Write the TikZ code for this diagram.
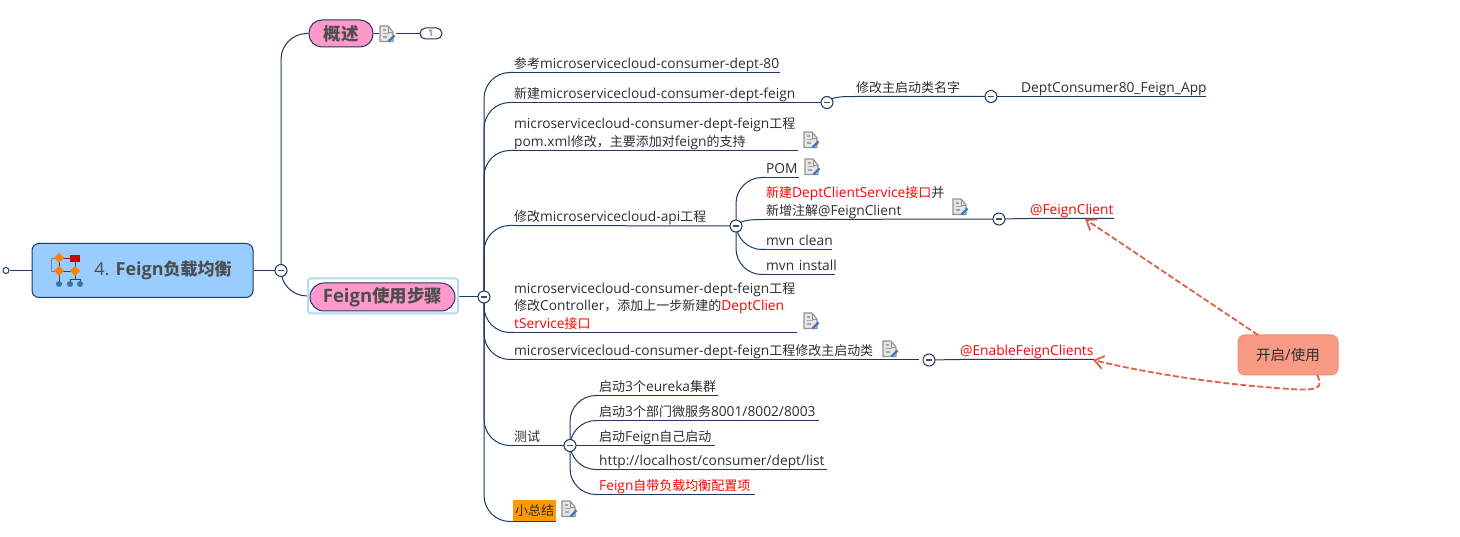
\documentclass[tikz,border=0pt]{standalone}
\usepackage{fontspec}
\setmainfont{Open Sans}
\newfontfamily\cjk[Scale=0.945]{Noto Sans CJK SC}
\usetikzlibrary{arrows.meta,backgrounds}
\definecolor{navy}{HTML}{1F3864}
\definecolor{txt}{HTML}{2E2E2E}
\definecolor{headtxt}{HTML}{4D4D4D}
\definecolor{rootblue}{HTML}{99CCFF}
\definecolor{pinkfill}{HTML}{FF99CC}
\definecolor{halo}{HTML}{B5D8FF}
\definecolor{anno}{HTML}{D9654B}
\definecolor{annofill}{HTML}{F99B84}
\definecolor{annoline}{HTML}{F58B73}
\definecolor{mark}{HTML}{FF9900}
\definecolor{pencil}{HTML}{3A78C2}
\definecolor{ball}{HTML}{3F709F}
\newcommand\zh[1]{{\cjk #1}}
\newcommand\rd[1]{\textcolor{red}{#1}}
\newcommand\st{\rule[-3.8pt]{0pt}{10pt}}
\newcommand\tn[5]{\node[lbl,text width=#4pt] (#1) at (#2,#3) {\mbox{#5}\st};}
\newcommand\tm[5]{\node[lbl,text width=#4pt] (#1) at (#2,#3) {#5\st};}
\tikzset{
 x=1pt,y=-1pt,
 lbl/.style={anchor=south west,inner sep=0pt,align=left,text=txt,font=\fontsize{13.75}{17.5}\selectfont},
 hub/.style={circle,draw=navy,fill=white,line width=1pt,minimum size=12pt,inner sep=0pt,
   path picture={\draw[line width=1.3pt,headtxt] ([xshift=-3pt]path picture bounding box.center)--([xshift=3pt]path picture bounding box.center);}},
 conn/.style={draw=navy,line width=1pt,rounded corners=26pt},
 straight/.style={draw=navy,line width=1pt},
 topic/.style={draw=navy,fill=pinkfill,line width=1pt,rounded corners=13pt,text=headtxt,inner sep=0pt,font=\fontsize{18.5}{20}\selectfont\bfseries},
 annoarrow/.style={draw=anno,line width=1.8pt,dash pattern=on 6pt off 2.5pt,-{Straight Barb[length=9pt,width=13pt]}},
 noteicon/.pic={
   \fill[white] (-8,-9) rectangle (9,9);
   \filldraw[draw=gray!85,fill=gray!20,line width=1.1pt] (-7,-8)--(1,-8)--(6,-2)--(6,7.5)--(-7,7.5)--cycle;
   \draw[gray!70,line width=1.2pt] (-4.5,-4)--(-1,-4) (-4.5,-.5)--(2,-.5) (-4.5,3)--(0,3);
   \draw[gray!85,line width=.8pt] (1,-8)--(1,-2)--(6,-2);
   \draw[line width=2.2pt,pencil] (1.5,7.5)--(7.5,1.5);
 },
}
\begin{document}
\begin{tikzpicture}
\path[use as bounding box] (0,0) rectangle (1460,537);
% main topics
\node[draw=navy,fill=rootblue,line width=1pt,rounded corners=7pt,minimum width=221pt,minimum height=54pt,inner sep=0pt,text=headtxt,font=\fontsize{18}{20}\selectfont] (root) at (142.5,270.5) {\hspace*{41pt}4. \textbf{Feign\zh{负载均衡}}};
\node[circle,draw=navy,fill=white,line width=1pt,minimum size=6pt,inner sep=0pt] (stub) at (6,270.5) {};
\node[hub] (h1) at (281,270.5) {};
\node[topic,minimum width=64pt,minimum height=27pt] (gs) at (341,33.5) {\zh{概述}};
\node[draw=halo,fill=white,line width=2pt,rounded corners=3pt,minimum width=150pt,minimum height=35pt,inner sep=0pt] (sel) at (383,296) {};
\node[topic,minimum width=145pt,minimum height=28pt,rounded corners=14pt] (fs) at (382.5,297) {Feign\zh{使用步骤}};
\node[draw=navy,fill=white,line width=1pt,rounded corners=5.5pt,minimum width=22pt,minimum height=11pt,inner sep=0pt,font=\fontsize{9}{10}\selectfont,text=txt] (one) at (431,33.5) {1};
\node[hub] (h2) at (484,297) {};
% children of the steps topic
\tn{a1}{514}{72.5}{266}{\zh{参考}microservicecloud-consumer-dept-80}
\tn{a2}{514}{102.5}{300}{\zh{新建}microservicecloud-consumer-dept-feign}
\node[hub] (h3) at (827,102.5) {};
\tn{a2a}{856}{96.5}{125}{\zh{修改主启动类名字}}
\node[hub] (h3b) at (991,96.5) {};
\tn{a2b}{1021}{96.5}{185}{DeptConsumer80\_Feign\_App}
\tm{a3}{514}{150.5}{284}{microservicecloud-consumer-dept-feign\zh{工程}\\pom.xml\zh{修改，主要添加对}feign\zh{的支持}}
\tn{a4}{514}{225.5}{210}{\zh{修改}microservicecloud-api\zh{工程}}
\node[hub] (h4) at (736,226) {};
\tn{b1}{766}{177.5}{33}{POM}
\tm{b2}{766}{219.5}{224}{\rd{\zh{新建}DeptClientService\zh{接口}}\zh{并}\\\zh{新增注解}@FeignClient}
\node[hub] (h5) at (999,219) {};
\tn{b2a}{1030}{218.5}{84}{\rd{@FeignClient}}
\tn{b3}{766}{249.5}{66}{mvn clean}
\tn{b4}{766}{274.5}{69}{mvn install}
\tm{a5}{514}{332.5}{283}{microservicecloud-consumer-dept-feign\zh{工程}\\\zh{修改}Controller\zh{，添加上一步新建的}\rd{DeptClien}\\\rd{tService\zh{接口}}}
\tn{a6}{514}{359.5}{405}{microservicecloud-consumer-dept-feign\zh{工程修改主启动类}}
\node[hub] (h6) at (929,360) {};
\tn{a6a}{960}{359.5}{134}{\rd{@EnableFeignClients}}
\tn{a7}{514}{445.5}{50}{\zh{测试}}
\node[hub] (h7) at (570,445.5) {};
\tn{c1}{599}{395.5}{119}{\zh{启动}3\zh{个}eureka\zh{集群}}
\tn{c2}{599}{420.5}{220}{\zh{启动}3\zh{个部门微服务}8001/8002/8003}
\tn{c3}{599}{445.5}{116}{\zh{启动}Feign\zh{自己启动}}
\tn{c4}{599}{469.5}{228}{http://localhost/consumer/dept/list}
\tn{c5}{599}{494.5}{156}{\rd{Feign\zh{自带负载均衡配置项}}}
\node[lbl,fill=mark,minimum height=21pt,text width=43pt,align=center] (a8) at (513,521.5) {\zh{小总结}};
% annotation
\node[draw=annoline,fill=annofill,line width=1pt,rounded corners=7pt,minimum width=100pt,minimum height=40pt,inner sep=0pt,text=txt,font=\fontsize{15.4}{16}\selectfont] (note) at (1288,355) {\zh{开启}/\zh{使用}};
\coordinate (fcTip) at (1085,219);
\coordinate (efTip) at (1093,360);
\coordinate (noteA) at (1258,335);
\coordinate (noteB) at (1317,375);
\begin{scope}[on background layer]
\fill[white] (0,0) rectangle (1460,537);
\draw[straight] (stub) -- (root);
\draw[straight] (root) -- (h1);
\draw[conn] (h1.center) |- (gs.west);
\draw[conn] (h1.center) |- (sel.west);
\draw[straight] (gs) -- (one);
\draw[straight] (fs.east) -- (h2);
\foreach \c in {a1,a3,a5,a6,a8}{\draw[conn] (h2.center) |- (\c.south west); \draw[straight] (\c.south west) -- (\c.south east);}
\draw[conn] (h2.center) |- (a2.south west); \draw[straight] (a2.south west) -- (h3.center);
\draw[conn] (h2.center) |- (a4.south west); \draw[straight] (a4.south west) -- (h4.center);
\draw[conn] (h2.center) |- (a7.south west); \draw[straight] (a7.south west) -- (h7.center);
\draw[straight] (h3.center) .. controls (831,96.5) and (842,96.5) .. (a2a.south west) -- (h3b.center);
\draw[straight] (h3b.center) -- (a2b.south west) -- (a2b.south east);
\foreach \c in {b1,b3,b4}{\draw[conn] (h4.center) |- (\c.south west); \draw[straight] (\c.south west) -- (\c.south east);}
\draw[straight] (h4.center) .. controls (741,219.5) and (752,219.5) .. (b2.south west) -- (h5.center);
\draw[straight] (h5.center) -- (b2a.south west) -- (b2a.south east);
\draw[straight] (h6.center) -- (a6a.south west) -- (a6a.south east);
\foreach \c in {c1,c2,c4,c5}{\draw[conn] (h7.center) |- (\c.south west); \draw[straight] (\c.south west) -- (\c.south east);}
\draw[straight] (h7.center) -- (c3.south west) -- (c3.south east);
\end{scope}
% note icons
\pic at (387,34) {noteicon};
\pic at (811,140) {noteicon};
\pic at (812,167) {noteicon};
\pic at (960,207) {noteicon};
\pic at (811,321) {noteicon};
\pic at (890,349) {noteicon};
\pic at (569,509) {noteicon};
% root icon
\draw[gray,line width=.9pt] (56,258)--(51,258)--(51,271)--(56,271);
\draw[black!75,line width=.7pt] (59,258)--(70,258) (75,262)--(75,268) (59,262)--(59,268) (59,271)--(75,271) (59,275)--(59,281) (75,275)--(75,279)--(70,279)--(70,281) (75,279)--(80,279)--(80,281);
\foreach \px/\py in {59/258,59/271,75/271}{\fill[orange] (\px-5,\py)--(\px,\py-5)--(\px+5,\py)--(\px,\py+5)--cycle;}
\fill[red!80!black] (70,255) rectangle (80,262);
\foreach \px in {59,70,80}{\fill[ball] (\px,284) circle (3);}
% annotation arrows
\draw[annoarrow] (noteA) -- (fcTip);
\draw[annoarrow] (noteB) .. controls (1324,388) and (1318,391) .. (1290,389) .. controls (1230,385) and (1160,376) .. (efTip);
\end{tikzpicture}
\end{document}
